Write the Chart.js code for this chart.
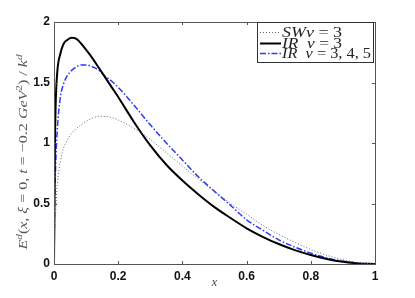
<!DOCTYPE html>
<html>
<head>
<meta charset="utf-8">
<script src="https://cdn.jsdelivr.net/npm/chart.js@4.4.1/dist/chart.umd.min.js"></script>
<style>
html,body{margin:0;padding:0;background:#fff;}
#wrap{position:relative;width:415px;height:298px;}
</style>
</head>
<body>
<div id="wrap"><canvas id="c" width="415" height="298"></canvas></div>
<script>
// ---- data ----
const xValues   = [0, 0.003, 0.005, 0.01, 0.02, 0.03, 0.04, 0.055, 0.07, 0.085, 0.1, 0.12, 0.14, 0.16, 0.18, 0.2, 0.25, 0.3, 0.35, 0.4, 0.45, 0.5, 0.55, 0.6, 0.65, 0.7, 0.75, 0.8, 0.85, 0.9, 0.95, 1];
const swNu3     = [0, 0.30, 0.42, 0.65, 0.85, 0.96, 1.02, 1.08, 1.12, 1.15, 1.18, 1.205, 1.22, 1.22, 1.21, 1.19, 1.12, 1.03, 0.92, 0.81, 0.70, 0.60, 0.50, 0.41, 0.32, 0.245, 0.18, 0.12, 0.072, 0.035, 0.01, 0];
const irNu3     = [0, 1.00, 1.30, 1.58, 1.74, 1.82, 1.85, 1.87, 1.86, 1.82, 1.77, 1.70, 1.62, 1.54, 1.46, 1.38, 1.17, 0.98, 0.82, 0.69, 0.575, 0.47, 0.38, 0.295, 0.225, 0.165, 0.115, 0.075, 0.042, 0.018, 0.005, 0];
const irNu345   = [0, 0.60, 0.80, 1.10, 1.38, 1.49, 1.55, 1.60, 1.63, 1.645, 1.645, 1.63, 1.60, 1.55, 1.51, 1.46, 1.31, 1.15, 1.00, 0.86, 0.72, 0.60, 0.485, 0.365, 0.28, 0.20, 0.14, 0.09, 0.05, 0.022, 0.006, 0];
const seriesLabels = ["SWν = 3", "IR ν = 3", "IR ν = 3, 4, 5"];
const xTicks = [0, 0.2, 0.4, 0.6, 0.8, 1];
const yTicks = [0, 0.5, 1, 1.5, 2];

const pts = arr => xValues.map((x, i) => ({x: x, y: arr[i]}));

const SERIF = '"Liberation Serif","DejaVu Serif",serif';
const SANS = '"Liberation Sans",Arial,sans-serif';

function drawPieces(ctx, pieces, size) {
  let x = 0;
  for (const [t, it, sup] of pieces) {
    const fs = sup ? size * 0.7 : size;
    ctx.font = (it ? 'italic ' : '') + fs + 'px ' + SERIF;
    ctx.fillText(t, x, sup ? -size * 0.4 : 0);
    x += ctx.measureText(t).width;
  }
  return x;
}
function measurePieces(ctx, pieces, size) {
  let w = 0;
  for (const [t, it, sup] of pieces) {
    const fs = sup ? size * 0.7 : size;
    ctx.font = (it ? 'italic ' : '') + fs + 'px ' + SERIF;
    w += ctx.measureText(t).width;
  }
  return w;
}

const framePlugin = {
  id: 'frame',
  afterDraw(chart) {
    const ctx = chart.ctx, a = chart.chartArea;
    const xs = chart.scales.x, ys = chart.scales.y;
    ctx.save();
    ctx.strokeStyle = '#555';
    ctx.lineWidth = 1;
    ctx.strokeRect(Math.round(a.left) + 0.5, Math.round(a.top) + 0.5, Math.round(a.right - a.left), Math.round(a.bottom - a.top));
    ctx.beginPath();
    const tl = 3;
    for (const v of xTicks) {
      const px = Math.round(xs.getPixelForValue(v)) + 0.5;
      ctx.moveTo(px, a.bottom); ctx.lineTo(px, a.bottom - tl);
      ctx.moveTo(px, a.top); ctx.lineTo(px, a.top + tl);
    }
    for (const v of yTicks) {
      const py = Math.round(ys.getPixelForValue(v)) + 0.5;
      ctx.moveTo(a.left, py); ctx.lineTo(a.left + tl, py);
      ctx.moveTo(a.right, py); ctx.lineTo(a.right - tl, py);
    }
    ctx.stroke();

    // x title
    ctx.fillStyle = '#444';
    ctx.textBaseline = 'alphabetic';
    ctx.textAlign = 'left';
    ctx.font = 'italic 12px ' + SERIF;
    const xt = 'x';
    ctx.fillText(xt, (a.left + a.right) / 2 - ctx.measureText(xt).width / 2, 286);

    // y title (rotated)
    const yPieces = [['E', true], ['d', true, true], ['(', false], ['x', true], [', ', false], ['ξ', true], [' = 0, ', false],
      ['t', true], [' = −0.2 ', false], ['GeV', true], ['2', false, true], [')', false], [' / ', false], ['k', true], ['d', true, true]];
    const ysz = 12.5;
    const w = measurePieces(ctx, yPieces, ysz);
    const targetW = 195;
    ctx.save();
    ctx.translate(27, 152 + targetW / 2);
    ctx.rotate(-Math.PI / 2);
    ctx.scale(targetW / w, 1);
    ctx.fillStyle = '#555';
    drawPieces(ctx, yPieces, ysz);
    ctx.restore();

    // legend box
    const lx = 257, ly = 22, lw = 116, lh = 40;
    ctx.fillStyle = '#fff';
    ctx.fillRect(lx, ly, lw, lh);
    ctx.strokeStyle = '#333';
    ctx.strokeRect(lx + 0.5, ly + 0.5, lw, lh);
    const rowsY = [32, 43, 53];
    const targets = [60, 60, 89];
    const legPieces = [
      [['SWν', true], [' = 3', false]],
      [['IR  ν', true], [' = 3', false]],
      [['IR  ν', true], [' = 3, 4, 5', false]]
    ];
    chart.data.datasets.forEach((ds, i) => {
      const y = rowsY[i];
      ctx.save();
      ctx.strokeStyle = ds.borderColor;
      ctx.lineWidth = ds.borderWidth;
      ctx.setLineDash(ds.borderDash || []);
      ctx.beginPath();
      ctx.moveTo(lx + 3, y + 0.5); ctx.lineTo(lx + 24, y + 0.5);
      ctx.stroke();
      ctx.restore();
      ctx.save();
      ctx.fillStyle = '#222';
      ctx.textBaseline = 'middle';
      ctx.translate(lx + 25, y + 1);
      const lwid = measurePieces(ctx, legPieces[i], 14);
      ctx.scale(targets[i] / lwid, 1);
      drawPieces(ctx, legPieces[i], 14);
      ctx.restore();
    });
    ctx.restore();
  }
};

new Chart(document.getElementById('c'), {
  type: 'line',
  data: {
    datasets: [
      {label: seriesLabels[0], data: pts(swNu3), borderColor: '#666', borderWidth: 1, borderDash: [1, 2], pointRadius: 0, cubicInterpolationMode: 'monotone', fill: false},
      {label: seriesLabels[1], data: pts(irNu3), borderColor: '#000', borderWidth: 2, pointRadius: 0, cubicInterpolationMode: 'monotone', fill: false},
      {label: seriesLabels[2], data: pts(irNu345), borderColor: '#2b3cf5', borderWidth: 1.5, borderDash: [6, 2, 1.5, 2], pointRadius: 0, cubicInterpolationMode: 'monotone', fill: false}
    ]
  },
  options: {
    responsive: false,
    animation: false,
    devicePixelRatio: 1,
    layout: {padding: {left: 0, top: 22, right: 40, bottom: 0}},
    plugins: {legend: {display: false}, tooltip: {enabled: false}},
    scales: {
      x: {
        type: 'linear', min: 0, max: 1,
        afterFit: s => { s.height = 34; },
        afterBuildTicks: s => { s.ticks = xTicks.map(v => ({value: v})); },
        grid: {display: false, drawTicks: false},
        border: {display: false},
        ticks: {padding: 5, color: '#111', font: {family: SANS, size: 12, weight: 'bold'}, maxRotation: 0,
          callback: v => String(Math.round(v * 10) / 10)}
      },
      y: {
        type: 'linear', min: 0, max: 2,
        afterFit: s => { s.width = 54; },
        afterBuildTicks: s => { s.ticks = yTicks.map(v => ({value: v})); },
        grid: {display: false, drawTicks: false},
        border: {display: false},
        ticks: {padding: 4, color: '#111', font: {family: SANS, size: 12, weight: 'bold'},
          callback: v => String(v)}
      }
    }
  },
  plugins: [framePlugin]
});
</script>
</body>
</html>
